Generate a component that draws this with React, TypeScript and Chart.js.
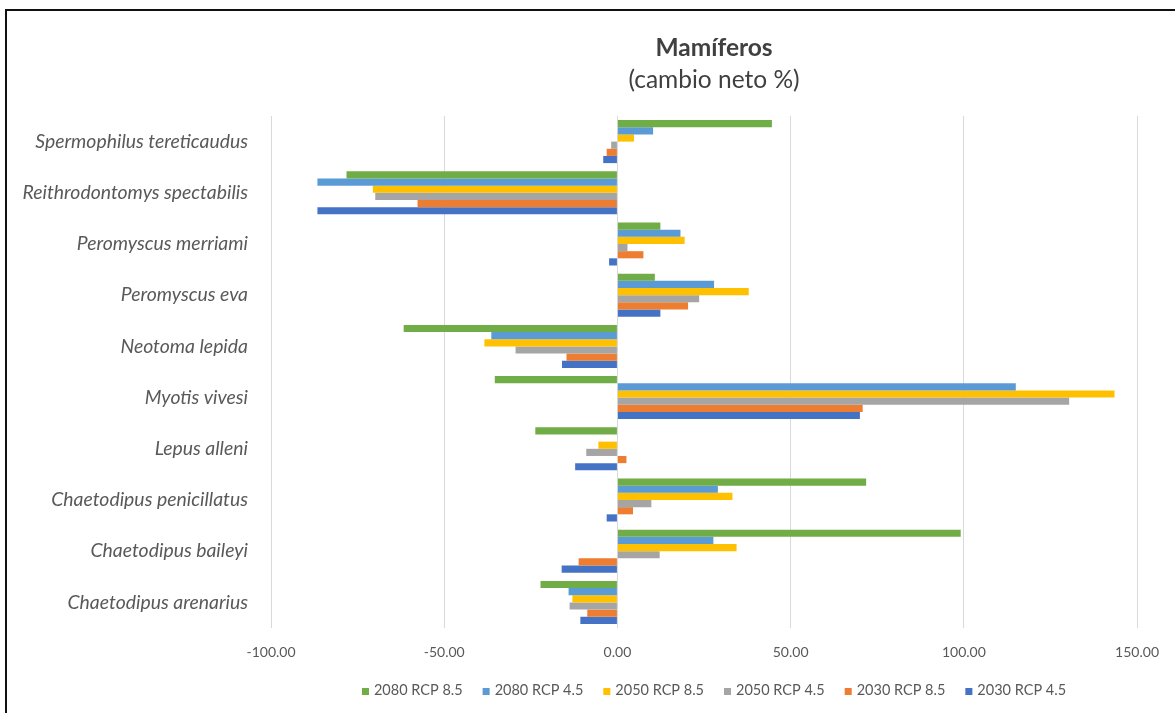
import { useEffect, useRef } from "react";
import { Chart, registerables } from "chart.js";

Chart.register(...registerables);

// Species, listed top to bottom as they appear on the category axis
const species = [
  "Spermophilus tereticaudus",
  "Reithrodontomys spectabilis",
  "Peromyscus merriami",
  "Peromyscus eva",
  "Neotoma lepida",
  "Myotis vivesi",
  "Lepus alleni",
  "Chaetodipus penicillatus",
  "Chaetodipus baileyi",
  "Chaetodipus arenarius",
];

// Scenario names and colours, in legend order (also top-to-bottom bar order)
const scenarioLabels = [
  "2080 RCP 8.5",
  "2080 RCP 4.5",
  "2050 RCP 8.5",
  "2050 RCP 4.5",
  "2030 RCP 8.5",
  "2030 RCP 4.5",
];
const scenarioColors = ["#70AD47", "#5B9BD5", "#FFC000", "#A5A5A5", "#ED7D31", "#4472C4"];

// Net change (%) per species for each scenario
const rcp85y2080 = [44.6, -78.2, 12.4, 10.8, -61.7, -35.4, -23.7, 71.8, 99.1, -22.2];
const rcp45y2080 = [10.3, -86.6, 18.2, 27.9, -36.4, 115.0, 0, 29.0, 27.7, -14.1];
const rcp85y2050 = [4.8, -70.6, 19.4, 37.9, -38.4, 143.5, -5.5, 33.2, 34.4, -13.0];
const rcp45y2050 = [-1.8, -69.9, 2.9, 23.6, -29.4, 130.4, -9.0, 9.8, 12.2, -13.8];
const rcp85y2030 = [-3.1, -57.7, 7.5, 20.4, -14.7, 70.8, 2.6, 4.5, -11.2, -8.7];
const rcp45y2030 = [-4.1, -86.6, -2.4, 12.4, -16.0, 70.0, -12.2, -3.1, -16.1, -10.7];

const seriesValues = [rcp85y2080, rcp45y2080, rcp85y2050, rcp45y2050, rcp85y2030, rcp45y2030];

// Value axis range and tick step
const xMin = -100;
const xMax = 150;
const xStep = 50;

const chartTitle = "Mamíferos";
const chartSubtitle = "(cambio neto %)";

const FONT = "Lato";
const LABEL_COLOR = "#595959";
const TITLE_COLOR = "#404040";

const W = 1175;
const H = 713;
const TITLE_X = 714;

// Frame, title and legend drawn straight onto the canvas
const decorPlugin = {
  id: "decor",
  afterDraw(chart: any) {
    const ctx: CanvasRenderingContext2D = chart.ctx;
    ctx.save();

    // frame (top and left edges)
    ctx.strokeStyle = "#111111";
    ctx.lineWidth = 2;
    ctx.beginPath();
    ctx.moveTo(6, H);
    ctx.lineTo(6, 10);
    ctx.lineTo(W, 10);
    ctx.stroke();

    // title
    ctx.fillStyle = TITLE_COLOR;
    ctx.textAlign = "center";
    ctx.textBaseline = "middle";
    ctx.font = `bold 24.5px ${FONT}`;
    ctx.fillText(chartTitle, TITLE_X, 48);
    ctx.font = `normal 24.5px ${FONT}`;
    ctx.fillText(chartSubtitle, TITLE_X, 80);

    // legend
    const box = 7;
    const boxGap = 5;
    const itemGap = 20;
    const baseline = 695;
    ctx.font = `normal 14.5px ${FONT}`;
    const datasets = chart.data.datasets;
    const widths = datasets.map((d: any) => box + boxGap + ctx.measureText(d.label).width);
    const total = widths.reduce((a: number, b: number) => a + b, 0) + itemGap * (datasets.length - 1);
    let x = TITLE_X - total / 2;
    ctx.textAlign = "left";
    ctx.textBaseline = "alphabetic";
    datasets.forEach((d: any, i: number) => {
      ctx.fillStyle = d.backgroundColor;
      ctx.fillRect(x, baseline - box, box, box);
      ctx.fillStyle = LABEL_COLOR;
      ctx.fillText(d.label, x + box + boxGap, baseline);
      x += widths[i] + itemGap;
    });

    ctx.restore();
  },
};

export default function App() {
  const canvasRef = useRef<HTMLCanvasElement>(null);

  useEffect(() => {
    const canvas = canvasRef.current;
    if (!canvas) return;
    const chart = new Chart(canvas, {
      type: "bar",
      data: {
        labels: species,
        datasets: scenarioLabels.map((label, i) => ({
          label,
          data: seriesValues[i],
          backgroundColor: scenarioColors[i],
          borderWidth: 0,
          categoryPercentage: 0.84,
          barPercentage: 1.0,
        })),
      },
      options: {
        indexAxis: "y",
        responsive: false,
        maintainAspectRatio: false,
        devicePixelRatio: 1,
        animation: false,
        layout: { padding: { top: 116, right: 34, bottom: 0, left: 0 } },
        plugins: {
          legend: { display: false },
          title: { display: false },
          tooltip: { enabled: false },
        },
        scales: {
          x: {
            type: "linear",
            min: xMin,
            max: xMax,
            afterFit: (scale: any) => {
              scale.height = 85;
            },
            ticks: {
              stepSize: xStep,
              padding: 16,
              color: LABEL_COLOR,
              font: { family: FONT, size: 14 },
              callback: (v: any) => Number(v).toFixed(2),
            },
            grid: { color: "#D9D9D9", lineWidth: 1, drawTicks: false },
            border: { display: false },
          },
          y: {
            type: "category",
            afterFit: (scale: any) => {
              scale.width = 271;
            },
            ticks: {
              padding: 23,
              color: LABEL_COLOR,
              font: { family: FONT, size: 19.4, style: "italic" },
            },
            grid: { display: false, drawTicks: false },
            border: { display: false },
          },
        },
      },
      plugins: [decorPlugin],
    });
    return () => chart.destroy();
  }, []);

  return (
    <div style={{ position: "fixed", left: 0, top: 0, width: W, height: H, background: "#ffffff" }}>
      <canvas ref={canvasRef} width={W} height={H} style={{ display: "block" }} />
    </div>
  );
}
